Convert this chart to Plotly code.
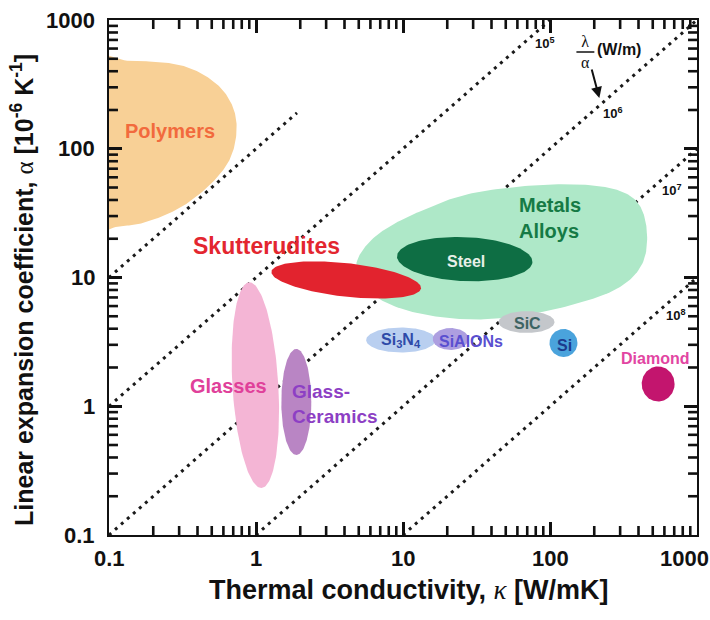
import numpy as np
import plotly.graph_objects as go

SANS = "Liberation Sans, Arial, Helvetica, sans-serif"
SERIF = "Liberation Serif, Times New Roman, serif"

# ---------------------------------------------------------------- data
kappa_ticks = [0.1, 1, 10, 100, 1000]
kappa_tick_text = ["0.1", "1", "10", "100", "1000"]
alpha_ticks = [0.1, 1, 10, 100, 1000]
alpha_tick_text = ["0.1", "1", "10", "100", "1000"]
decade_exps = [-1, 0, 1, 2]
minor_digits = [2, 3, 4, 5, 6, 7, 8, 9]

# guide lines of constant lambda/alpha = 10^n W/m
ratio_exp = [4, 5, 6, 7, 8]
ratio_kappa_from = [0.1, 0.1, 0.1, 1, 10]
ratio_kappa_to = [1.9, 100, 1000, 1000, 1000]
ratio_label_alpha = [None, 660, 190, 48, 5.1]

# free-form envelopes (kappa [W/mK], alpha [1e-6/K])
polymers_kappa = [0.054, 0.139, 0.303, 0.499, 0.661, 0.738, 0.683, 0.524, 0.327, 0.189, 0.119, 0.054]
polymers_alpha = [455, 481, 447, 342, 239, 153, 89.3, 57.1, 36.6, 27.5, 25.1, 25.1]

metals_kappa = [4.80, 5.44, 7.43, 12.8, 28.0, 83.6, 213, 368, 451, 430, 291, 133, 48.4, 20.5, 9.40, 5.70]
metals_alpha = [11.9, 16.9, 23.4, 32.3, 44.6, 52.2, 51.4, 41.4, 25.6, 13.2, 8.28, 6.01, 4.84, 4.84, 5.80, 8.00]

# elliptical envelopes: centre, half-widths (decades) and tilt (deg)
ell_names = ["Steel", "Skutterudites", "Glasses", "Glass-Ceramics", "Si3N4",
             "SiAlONs", "SiC", "Si", "Diamond"]
ell_kappa = [26.3, 4.11, 0.99, 1.88, 9.69, 21.1, 69.3, 123.5, 544]
ell_alpha = [13.9, 9.57, 1.46, 1.08, 3.27, 3.33, 4.51, 3.10, 1.49]
ell_half_k = [0.461, 0.513, 0.156, 0.102, 0.237, 0.122, 0.19, 0.095, 0.112]
ell_half_a = [0.171, 0.13, 0.80, 0.412, 0.097, 0.085, 0.085, 0.109, 0.136]
ell_tilt = [-3, -7.4, 3, 0, 0, 0, 0, 0, 0]

# ---------------------------------------------------------------- styles
fill_colors = {
    "Polymers": "#f8d096", "Metals": "#aee8c8", "Steel": "#0e6e44",
    "Skutterudites": "#e2232e", "Glasses": "#f4b5d5", "Glass-Ceramics": "#b985c4",
    "Si3N4": "#b9cff0", "SiAlONs": "#ad9fe0", "SiC": "#c4c7cb", "Si": "#4aa3dc",
    "Diamond": "#c3156e",
}

# label text, position (kappa, alpha), colour, size, line alignment, anchor
labels = [
    ("Polymers", 0.259, 137, "#f26a3d", 20, "center", "center"),
    ("Skutterudites", 1.17, 17.6, "#e3262f", 23, "center", "center"),
    ("Metals<br>Alloys", 100, 29.0, "#157a45", 20, "left", "center"),
    ("Steel", 26.7, 13.4, "#e8f0e8", 16, "center", "center"),
    ("Glasses", 0.652, 1.44, "#e0409a", 20, "center", "center"),
    ("Glass-<br>Ceramics", 1.69, 1.05, "#8d3fc4", 19, "left", "left"),
    ("Si<sub>3</sub>N<sub>4</sub>", 9.69, 3.24, "#2e4aa8", 16, "center", "center"),
    ("SiAlONs", 28.9, 3.16, "#5a4fd0", 16, "center", "center"),
    ("SiC", 70.3, 4.36, "#3d6463", 16, "center", "center"),
    ("Si", 125, 2.99, "#1c3b8e", 16, "center", "center"),
    ("Diamond", 519, 2.33, "#e245a2", 16, "center", "center"),
]

INK = "#111"
L, R, T, B = 109, 11, 20, 85
W, H = 710, 620
LOG_LO, LOG_HI = -1, 3
PX_PER_DEC_X = (W - L - R) / (LOG_HI - LOG_LO)
PX_PER_DEC_Y = (H - T - B) / (LOG_HI - LOG_LO)
MAJOR_LEN, MINOR_LEN, TICK_W = 13, 9, 2.6


def paper_x(px):
    return (px - L) / (W - L - R)


def paper_y(py):
    return (H - B - py) / (H - B - T)


def ellipse(kc, ac, hk, ha, tilt, n=160):
    t = np.linspace(0, 2 * np.pi, n)
    u, v = hk * np.cos(t), ha * np.sin(t)
    th = np.radians(tilt)
    lx = np.log10(kc) + u * np.cos(th) - v * np.sin(th)
    ly = np.log10(ac) + u * np.sin(th) + v * np.cos(th)
    return 10 ** lx, 10 ** ly


def closed_curve(kappa, alpha, per=20):
    # periodic Catmull-Rom through the outline points, in log space
    P = np.column_stack([np.log10(kappa), np.log10(alpha)])
    n = len(P)
    pts = []
    for i in range(n):
        p0, p1, p2, p3 = P[(i - 1) % n], P[i], P[(i + 1) % n], P[(i + 2) % n]
        for t in np.linspace(0, 1, per, endpoint=False):
            pts.append(0.5 * (2 * p1 + (-p0 + p2) * t
                              + (2 * p0 - 5 * p1 + 4 * p2 - p3) * t * t
                              + (-p0 + 3 * p1 - 3 * p2 + p3) * t ** 3))
    pts.append(pts[0])
    pts = np.array(pts)
    return 10 ** pts[:, 0], 10 ** pts[:, 1]


fig = go.Figure()

# constant lambda/alpha guide lines (drawn first, behind the envelopes)
for n, k0, k1 in zip(ratio_exp, ratio_kappa_from, ratio_kappa_to):
    k = np.array([k0, k1])
    fig.add_trace(go.Scatter(x=k, y=k * 1e6 / 10 ** n, mode="lines",
                             line=dict(color="#1a1a1a", width=3, dash="3px,5px"),
                             hoverinfo="skip"))


def add_patch(x, y, color):
    fig.add_trace(go.Scatter(x=x, y=y, mode="lines", fill="toself",
                             fillcolor=color, line=dict(width=0, color=color),
                             hoverinfo="skip"))


add_patch(*closed_curve(polymers_kappa, polymers_alpha), fill_colors["Polymers"])
add_patch(*closed_curve(metals_kappa, metals_alpha), fill_colors["Metals"])
for name, kc, ac, hk, ha, tl in zip(ell_names, ell_kappa, ell_alpha,
                                    ell_half_k, ell_half_a, ell_tilt):
    add_patch(*ellipse(kc, ac, hk, ha, tl), fill_colors[name])

# inward minor ticks on all four sides of the frame (segments in data space)
lo, hi = 10.0 ** LOG_LO, 10.0 ** LOG_HI
minor_vals = [d * 10.0 ** e for e in decade_exps for d in minor_digits]


def tick_segments(values, length_px):
    fy = 10 ** (length_px / PX_PER_DEC_Y)
    fx = 10 ** (length_px / PX_PER_DEC_X)
    segs = []
    for v in values:
        segs += [((v, lo), (v, lo * fy)), ((v, hi), (v, hi / fy)),
                 ((lo, v), (lo * fx, v)), ((hi, v), (hi / fx, v))]
    return segs


xs, ys = [], []
for (x0, y0), (x1, y1) in tick_segments(minor_vals, MINOR_LEN):
    xs += [x0, x1, None]
    ys += [y0, y1, None]
fig.add_trace(go.Scatter(x=xs, y=ys, mode="lines", hoverinfo="skip",
                         line=dict(color=INK, width=TICK_W)))

ann = []
for text, k, a, col, size, align, anchor in labels:
    ann.append(dict(x=np.log10(k), y=np.log10(a), xref="x", yref="y", text=text,
                    showarrow=False, align=align, xanchor=anchor, yanchor="middle",
                    font=dict(family=SANS, size=size, color=col, weight="bold")))

# labels of the guide lines
for n, a in zip(ratio_exp, ratio_label_alpha):
    if a is None:
        continue
    ann.append(dict(x=np.log10(a * 10 ** n / 1e6), y=np.log10(a), xref="x", yref="y",
                    text=f"10<sup>{n}</sup>", showarrow=False, xanchor="left",
                    xshift=10, yanchor="middle",
                    font=dict(family=SANS, size=13, color=INK, weight="bold")))

# lambda/alpha key with arrow
ann.append(dict(x=paper_x(587), y=paper_y(52), xref="paper", yref="paper",
                text="λ<br>α", showarrow=False, xanchor="center", yanchor="middle",
                font=dict(family=SERIF, size=16, color=INK)))
ann.append(dict(x=paper_x(597), y=paper_y(50), xref="paper", yref="paper", text="(W/m)",
                showarrow=False, xanchor="left", yanchor="middle",
                font=dict(family=SANS, size=16, color=INK, weight="bold")))
ann.append(dict(x=paper_x(601), y=paper_y(98), xref="paper", yref="paper", text="",
                showarrow=True, arrowhead=2, arrowsize=1.1, arrowwidth=2,
                arrowcolor=INK, ax=-8, ay=-30, xanchor="center", yanchor="middle"))

# tick labels
tick_font = dict(family=SANS, size=22, color=INK, weight="bold")
for v, t in zip(kappa_ticks, kappa_tick_text):
    ann.append(dict(x=np.log10(v), y=0, xref="x", yref="paper", text=t, showarrow=False,
                    xanchor="center", yanchor="middle", yshift=-23,
                    xshift=-13 if v == kappa_ticks[-1] else 0, font=tick_font))
for v, t in zip(alpha_ticks, alpha_tick_text):
    ann.append(dict(x=0, y=np.log10(v), xref="paper", yref="y", text=t, showarrow=False,
                    xanchor="right", yanchor="middle", xshift=-12, font=tick_font))

# axis titles
ann.append(dict(x=0.51, y=0, xref="paper", yref="paper", yshift=-55,
                xanchor="center", yanchor="middle", showarrow=False,
                text=f"Thermal conductivity, <span style='font-family:{SERIF};font-weight:normal'><i>κ</i></span> [W/mK]",
                font=dict(family=SANS, size=27, color=INK, weight="bold")))
ann.append(dict(x=0, y=paper_y(290), xref="paper", yref="paper", xshift=-87,
                xanchor="center", yanchor="middle", textangle=-90, showarrow=False,
                text=f"Linear expansion coefficient, <span style='font-family:{SERIF};font-weight:normal'>α</span> [10<sup>-6</sup> K<sup>-1</sup>]",
                font=dict(family=SANS, size=25, color=INK, weight="bold")))

shapes = [dict(type="line", xref="paper", yref="paper", x0=paper_x(578), x1=paper_x(596),
               y0=paper_y(52), y1=paper_y(52), line=dict(color=INK, width=1.5))]

# major ticks come from the axes themselves, mirrored on all sides
axis_common = dict(type="log", range=[LOG_LO, LOG_HI], showgrid=False, zeroline=False,
                   showline=True, linecolor=INK, linewidth=2, mirror="allticks",
                   ticks="inside", ticklen=MAJOR_LEN, tickwidth=TICK_W, tickcolor=INK,
                   showticklabels=False)

fig.update_layout(
    width=W, height=H, margin=dict(l=L, r=R, t=T, b=B),
    plot_bgcolor="white", paper_bgcolor="white", showlegend=False,
    xaxis=dict(**axis_common, tickvals=kappa_ticks[1:-1]),
    yaxis=dict(**axis_common, tickvals=alpha_ticks[1:-1]),
    annotations=ann,
    shapes=shapes,
)

fig.write_html("out.html")
